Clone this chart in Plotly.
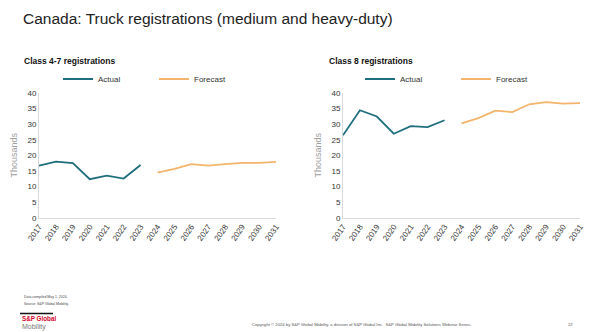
import plotly.graph_objects as go

years = [str(y) for y in range(2017, 2032)]
actual_years = years[:7]
forecast_years = years[7:]

c47_actual = [16.7, 18.0, 17.5, 12.4, 13.5, 12.6, 16.9]
c47_forecast = [14.5, 15.7, 17.2, 16.7, 17.2, 17.6, 17.6, 17.9]
c8_actual = [26.4, 34.4, 32.4, 26.9, 29.3, 29.0, 31.2]
c8_forecast = [30.2, 31.9, 34.3, 33.8, 36.3, 37.0, 36.5, 36.7]

y_ticks = [0, 5, 10, 15, 20, 25, 30, 35, 40]

TEAL = "#1f6e7e"
ORANGE = "#f3b46c"
FONT = "Liberation Sans, Arial, sans-serif"

fig = go.Figure()
fig.add_trace(go.Scatter(x=actual_years, y=c47_actual, mode="lines", name="Actual",
                         line=dict(color=TEAL, width=1.8), xaxis="x", yaxis="y", legend="legend"))
fig.add_trace(go.Scatter(x=forecast_years, y=c47_forecast, mode="lines", name="Forecast",
                         line=dict(color=ORANGE, width=1.8), xaxis="x", yaxis="y", legend="legend"))
fig.add_trace(go.Scatter(x=actual_years, y=c8_actual, mode="lines", name="Actual",
                         line=dict(color=TEAL, width=1.8), xaxis="x2", yaxis="y2", legend="legend2"))
fig.add_trace(go.Scatter(x=forecast_years, y=c8_forecast, mode="lines", name="Forecast",
                         line=dict(color=ORANGE, width=1.8), xaxis="x2", yaxis="y2", legend="legend2"))

W, H = 602, 332
def fx(px): return px / W
def fy(py): return 1 - py / H

xaxis_common = dict(type="category", categoryorder="array", categoryarray=years,
                    showgrid=False, showline=True, linecolor="#d9d9d9", linewidth=1,
                    ticks="", tickangle=-55, tickfont=dict(size=8, color="#333333", family=FONT),
                    zeroline=False, fixedrange=True)
yaxis_common = dict(range=[0, 40], tickvals=y_ticks, showgrid=False, showline=True,
                    linecolor="#d9d9d9", linewidth=1, ticks="", zeroline=False,
                    tickfont=dict(size=8, color="#333333", family=FONT),
                    title=dict(text="Thousands", font=dict(size=9, color="#a0a0a0", family=FONT), standoff=8),
                    fixedrange=True)

legend_common = dict(orientation="h", xanchor="left", yanchor="middle",
                     font=dict(size=8, color="#333333", family=FONT), entrywidth=51,
                     itemwidth=30, bgcolor="rgba(0,0,0,0)", tracegroupgap=0,
                     xref="container", yref="container")

fig.update_layout(
    width=W, height=H, margin=dict(l=0, r=0, t=0, b=0, autoexpand=False),
    paper_bgcolor="white", plot_bgcolor="white",
    font=dict(family=FONT),
    xaxis=dict(domain=[fx(39), fx(276)], anchor="y", **xaxis_common),
    yaxis=dict(domain=[fy(218), fy(92.7)], anchor="x", **yaxis_common),
    xaxis2=dict(domain=[fx(343), fx(580)], anchor="y2", **xaxis_common),
    yaxis2=dict(domain=[fy(218), fy(92.7)], anchor="x2", **yaxis_common),
    legend=dict(x=fx(58), y=fy(79), **legend_common),
    legend2=dict(x=fx(360), y=fy(79), **legend_common),
    showlegend=True,
)

def ann(text, x, y, size, color="#222222", bold=False, xanchor="left"):
    if bold:
        text = "<b>" + text + "</b>"
    fig.add_annotation(text=text, x=fx(x), y=fy(y), xref="paper", yref="paper",
                       xanchor=xanchor, yanchor="middle", showarrow=False,
                       font=dict(size=size, color=color, family=FONT))

ann("Canada: Truck registrations (medium and heavy-duty)", 21, 18, 15.5, "#222222")
ann("Class 4-7 registrations", 22, 61, 8.5, "#111111", bold=True)
ann("Class 8 registrations", 327, 61, 8.5, "#111111", bold=True)
ann("Data compiled May 1, 2024.", 22, 297, 3.5, "#444444")
ann("Source: S&P Global Mobility.", 22, 303.5, 3.5, "#444444")
ann("<b>S&P Global</b>", 20, 318.5, 6.3, "#d6002a")
ann("Mobility", 20, 327, 7, "#777777")
ann("Copyright © 2024 by S&P Global Mobility, a division of S&P Global Inc.  S&P Global Mobility Solutions Webinar Series.",
    250, 324, 4.2, "#555555")
ann("22", 566, 324, 4.2, "#555555")

fig.add_shape(type="line", xref="paper", yref="paper", x0=fx(20), x1=fx(53), y0=fy(313.5), y1=fy(313.5),
              line=dict(color="#111111", width=1.5))

fig.write_html("out.html")
